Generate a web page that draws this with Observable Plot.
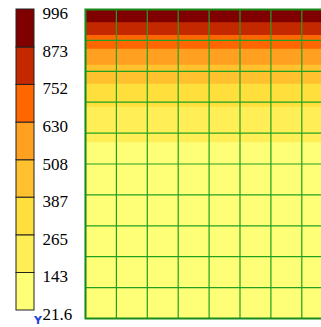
<!DOCTYPE html>
<html>
<head>
<meta charset="utf-8">
<script src="https://cdn.jsdelivr.net/npm/d3@7"></script>
<script src="https://cdn.jsdelivr.net/npm/@observablehq/plot@0.6"></script>
<style>
  html, body { margin: 0; padding: 0; background: #fff; overflow: hidden; width: 321px; height: 327px; }
  #legend { position: absolute; left: 0; top: 0; }
  #main { position: absolute; left: 0; top: 0; width: 400px; }
  svg { max-width: none !important; }
  #ylab { position: absolute; left: 34px; top: 314px; font: bold 11px "DejaVu Sans", sans-serif; color: #1f3fdc; }
</style>
</head>
<body>
<div id="main"></div>
<div id="legend"></div>
<div id="ylab">Y</div>
<script>
// Legend band limits (tick values) and labels
const legendTicks = [21.6, 143, 265, 387, 508, 630, 752, 873, 996];
const legendLabels = ["21.6", "143", "265", "387", "508", "630", "752", "873", "996"];
const bandColors = ["#ffff77", "#ffee55", "#ffdf3c", "#ffc22e", "#ffa020", "#ff6600", "#c42800", "#800000"];

// Surface values read along Y (value is constant across X)
const rowY = [10, 9.5, 9, 8.5, 8, 7.5, 7, 6.5, 6, 5.5, 5, 4.5, 4, 3.5, 3, 2.5, 2, 1.5, 1, 0.5, 0];
const rowZ = [996, 848, 701, 570, 461, 369, 283, 222, 169, 125, 97, 72, 55, 42, 33, 27, 24, 22.5, 22, 21.7, 21.6];

// Grid positions
const gridX = [0, 1, 2, 3, 4, 5, 6, 7, 8, 9, 10];
const gridY = [0, 1, 2, 3, 4, 5, 6, 7, 8, 9, 10];

const zAt = d3.scaleLinear().domain(rowY).range(rowZ);

const color = {
  type: "threshold",
  domain: legendTicks.slice(1, 8),
  range: bandColors
};

// Main surface plot
const main = Plot.plot({
  width: 400,
  height: 327,
  marginLeft: 85,
  marginRight: 6,
  marginTop: 9,
  marginBottom: 9,
  style: { maxWidth: "none" },
  x: { domain: [0, 10], axis: null },
  y: { domain: [0, 10], axis: null },
  color,
  marks: [
    Plot.contour({
      value: (x, y) => zAt(y),
      x1: 0, x2: 10, y1: 0, y2: 10,
      thresholds: legendTicks.slice(0, 8),
      fill: "value",
      stroke: "none",
      pixelSize: 1
    }),
    Plot.ruleX(gridX, { stroke: "#22a022", strokeWidth: 1.2 }),
    Plot.ruleY(gridY, { stroke: "#22a022", strokeWidth: 1.2 }),
    Plot.frame({ stroke: "#1a8a1a", strokeWidth: 2 })
  ]
});
main.style.maxWidth = "none";
document.getElementById("main").append(main);

// Legend colour bar
const bands = bandColors.map((c, i) => ({ lo: legendTicks[i], hi: legendTicks[i + 1], c: legendTicks[i] }));
const legend = Plot.plot({
  width: 85,
  height: 327,
  marginLeft: 16,
  marginRight: 51,
  marginTop: 9,
  marginBottom: 17,
  style: { fontFamily: "'Liberation Serif', 'Times New Roman', serif", fontSize: "17px", color: "#000", background: "transparent", maxWidth: "none" },
  x: { domain: [0, 1], axis: null },
  y: { domain: [21.6, 996], axis: null },
  color,
  marks: [
    Plot.rect(bands, { x1: 0, x2: 1, y1: "lo", y2: "hi", fill: "c", stroke: "#222", strokeWidth: 1 }),
    Plot.axisY(legendTicks, {
      anchor: "right",
      tickSize: 0,
      tickPadding: 8,
      dy: 4,
      tickFormat: (d, i) => legendLabels[i],
      fontSize: 17,
      fill: "#000"
    })
  ]
});
document.getElementById("legend").append(legend);
</script>
</body>
</html>
